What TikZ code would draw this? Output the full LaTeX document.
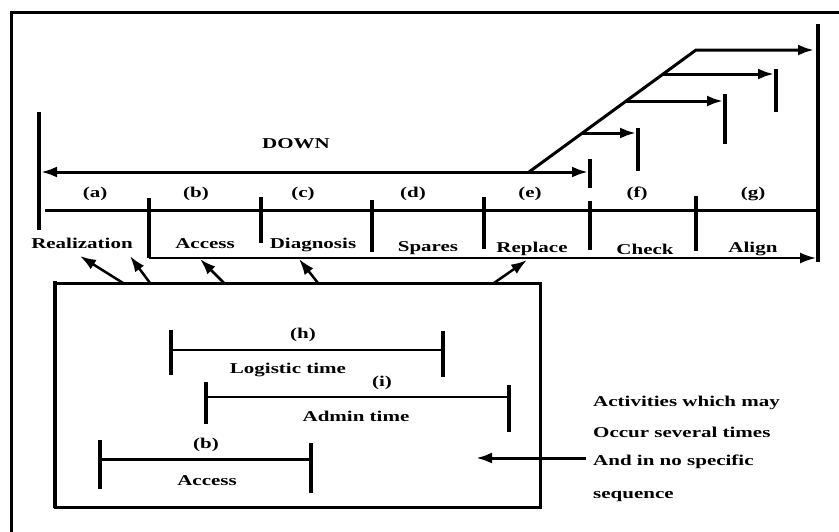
\documentclass[tikz,border=0pt]{standalone}
\usepackage{fontspec}
\setmainfont{Liberation Serif}[FakeStretch=1.4]
\usetikzlibrary{arrows.meta}

\begin{document}
\begin{tikzpicture}[x=1pt,y=-1pt,
  lbl/.style={font=\fontsize{15}{18}\selectfont\bfseries, anchor=base, inner sep=0pt},
  note/.style={lbl, anchor=base west},
  bar/.style={line width=4.5pt},
  rule/.style={line width=3pt},
  fine/.style={line width=2pt},
  pointer/.style={line width=2.5pt},
  head/.tip={Latex[length=16pt,width=11pt]},
  tip/.style={-head}]
\useasboundingbox (0,0) rectangle (839,531);
\clip (0,0) rectangle (839,531);
\fill[white] (0,0) rectangle (839,531);

% outer frame, running off the page on the right and at the bottom
\draw[rule] (11,560) -- (11,12) -- (870,12);

% ---------- main time line ----------
\coordinate (tl0) at (45,210);
\coordinate (tl1) at (818,210);
\draw[rule] (tl0) -- (tl1);

% start and end bars
\coordinate (sA) at (39,112); \coordinate (sB) at (39,230);
\coordinate (eA) at (818,24); \coordinate (eB) at (818,262);
\draw[bar] (sA) -- (sB);
\draw[bar] (eA) -- (eB);

% phase separators
\coordinate (p1a) at (149,198); \coordinate (p1b) at (149,258);
\coordinate (p2a) at (261,197); \coordinate (p2b) at (261,243);
\coordinate (p3a) at (372,200); \coordinate (p3b) at (372,252);
\coordinate (p4a) at (484,197); \coordinate (p4b) at (484,249);
\coordinate (p5a) at (590,201); \coordinate (p5b) at (590,250);
\coordinate (p6a) at (696,196); \coordinate (p6b) at (696,251);
\foreach \i in {1,...,6} \draw[bar] (p\i a) -- (p\i b);

% span from Access to the end
\coordinate (spanEnd) at (816,258);
\draw[fine,tip] (p1b) -- (spanEnd);

% DOWN span
\coordinate (dL) at (41,172);
\coordinate (dR) at (588,172);
\coordinate (dTa) at (590,159); \coordinate (dTb) at (590,188);
\draw[rule,head-head] (dL) -- (dR);
\draw[bar] (dTa) -- (dTb);
\node[lbl] (down) at (296,148) {DOWN};

% rising ramp with repeated check / align attempts
\coordinate (r0) at (529,172);
\coordinate (r1) at (696,50);
\coordinate (r1e) at (814,50);
\draw[rule,tip] (r0) -- (r1) -- (r1e);

\coordinate (k1s) at (582,133); \coordinate (k1e) at (636,133);
\coordinate (k1a) at (638,128); \coordinate (k1b) at (638,171);
\coordinate (k2s) at (626,101); \coordinate (k2e) at (723,101);
\coordinate (k2a) at (725,94);  \coordinate (k2b) at (725,144);
\coordinate (k3s) at (663,74);  \coordinate (k3e) at (774,74);
\coordinate (k3a) at (776,69);  \coordinate (k3b) at (776,112);
\foreach \i in {1,2,3} {
  \draw[rule,tip] (k\i s) -- (k\i e);
  \draw[bar] (k\i a) -- (k\i b);
}

% phase letters
\node[lbl] (la) at (95,197)  {(a)};
\node[lbl] (lb) at (196,197) {(b)};
\node[lbl] (lc) at (303,197) {(c)};
\node[lbl] (ld) at (413,197) {(d)};
\node[lbl] (le) at (530,197) {(e)};
\node[lbl] (lf) at (637,197) {(f)};
\node[lbl] (lg) at (753,197) {(g)};

% phase names
\node[lbl] (nReal)  at (82,248)  {Realization};
\node[lbl] (nAcc)   at (205,248) {Access};
\node[lbl] (nDiag)  at (313,248) {Diagnosis};
\node[lbl] (nSpare) at (428,251) {Spares};
\node[lbl] (nRepl)  at (532,252) {Replace};
\node[lbl] (nChk)   at (645,254) {Check};
\node[lbl] (nAlign) at (753,252) {Align};

% ---------- box of recurring activities ----------
\coordinate (bx0) at (55,283);
\coordinate (bx1) at (540,507);
\draw[rule] (bx0) rectangle (bx1);
\draw[bar] (55,281) -- (55,508);

% pointers from the box to the phases
\coordinate (f1) at (123,283); \coordinate (t1) at (80,256);
\coordinate (f2) at (150,283); \coordinate (t2) at (130,256);
\coordinate (f3) at (224,283); \coordinate (t3) at (200,259);
\coordinate (f4) at (318,283); \coordinate (t4) at (299,259);
\coordinate (f5) at (494,283); \coordinate (t5) at (527,260);
\foreach \i in {1,...,5} \draw[pointer,tip] (f\i) -- (t\i);

% (h) logistic time
\coordinate (hL) at (171,350); \coordinate (hR) at (443,350);
\draw[fine] (hL) -- (hR);
\draw[bar] (171,330) -- (171,375);
\draw[bar] (443,331) -- (443,377);
\node[lbl] (hLab) at (303,338) {(h)};
\node[lbl] (hTxt) at (288,373) {Logistic time};

% (i) admin time
\coordinate (iL) at (206,397); \coordinate (iR) at (509,397);
\draw[fine] (iL) -- (iR);
\draw[bar] (206,382) -- (206,424);
\draw[bar] (509,385) -- (509,432);
\node[lbl] (iLab) at (382,386) {(i)};
\node[lbl] (iTxt) at (356,421) {Admin time};

% (b) access
\coordinate (aL) at (100,459); \coordinate (aR) at (311,459);
\draw[rule] (aL) -- (aR);
\draw[bar] (100,440) -- (100,489);
\draw[bar] (311,443) -- (311,493);
\node[lbl] (aLab) at (206,448) {(b)};
\node[lbl] (aTxt) at (207,485) {Access};

% explanatory note
\node[note] (n1) at (593,406) {Activities which may};
\node[note] (n2) at (593,437) {Occur several times};
\node[note] (n3) at (593,465) {And in no specific};
\node[note] (n4) at (593,498) {sequence};
\coordinate (nFrom) at (586,458);
\coordinate (nTo) at (476,458);
\draw[rule,tip] (nFrom) -- (nTo);
\end{tikzpicture}
\end{document}
